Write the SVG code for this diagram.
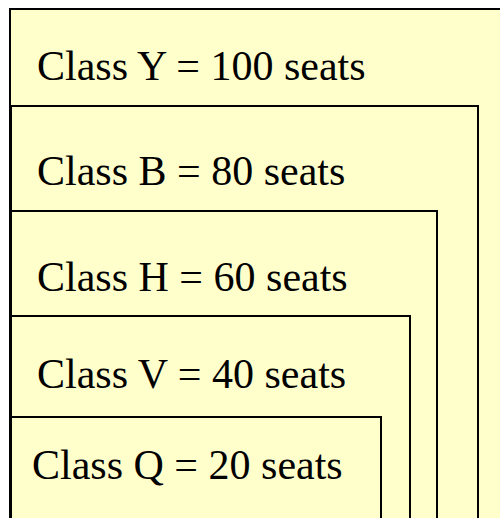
<svg xmlns="http://www.w3.org/2000/svg" width="500" height="518" viewBox="0 0 500 518">
<style>
.box{fill:#FFFFCC;stroke:#000;stroke-width:2}
.lbl{font-family:"Liberation Serif","Times New Roman",serif;font-size:42px;fill:#000}
</style>
<rect width="500" height="518" fill="#fff"/>
<g id="classY"><rect class="box" x="10" y="9" width="530" height="540"/><text class="lbl" x="37" y="80">Class Y = 100 seats</text></g>
<g id="classB"><rect class="box" x="11" y="106" width="467" height="440"/><text class="lbl" x="37" y="185">Class B = 80 seats</text></g>
<g id="classH"><rect class="box" x="11" y="211" width="426" height="340"/><text class="lbl" x="37" y="291">Class H = 60 seats</text></g>
<g id="classV"><rect class="box" x="11" y="316" width="399" height="240"/><text class="lbl" x="37" y="388">Class V = 40 seats</text></g>
<g id="classQ"><rect class="box" x="11" y="417" width="370" height="140"/><text class="lbl" x="32" y="479">Class Q = 20 seats</text></g>
<g id="connectors"/>
</svg>
